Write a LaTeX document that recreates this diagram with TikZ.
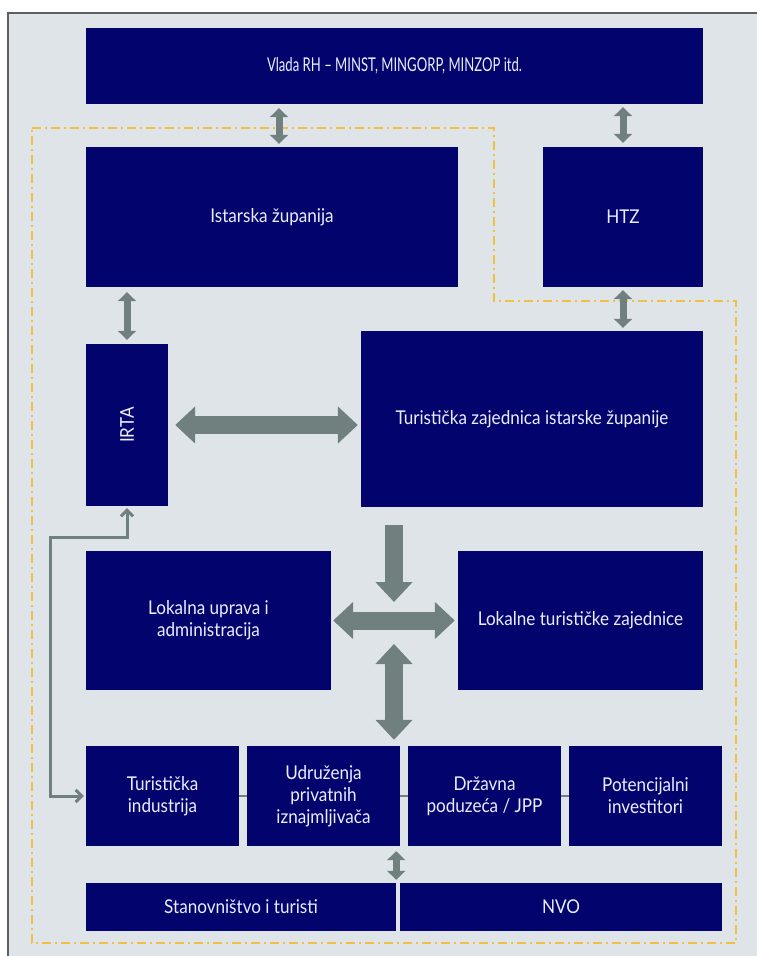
\documentclass[tikz,border=0pt]{standalone}
\usepackage{fontspec}
\setmainfont{Lato}[FakeStretch=0.9]
\newfontfamily\vladafont{Lato}[FakeStretch=0.69]
\usetikzlibrary{arrows.meta}
\definecolor{boxblue}{RGB}{3,3,110}
\definecolor{paper}{RGB}{222,228,231}
\definecolor{arrowgrey}{RGB}{112,128,126}
\definecolor{dashgold}{RGB}{240,192,70}
\definecolor{framegrey}{RGB}{90,96,100}

\begin{document}
\begin{tikzpicture}[x=1pt,y=-1pt]
  \useasboundingbox (0,0) rectangle (757,956);
  \fill[white] (0,0) rectangle (757,956);
  \fill[paper] (8,13) rectangle (757,956);
  \draw[framegrey,line width=1.5pt] (8,956) -- (8,13) -- (757,13);

%% dash-dot region
  \draw[dashgold,line width=2pt,dash pattern=on 9pt off 4pt on 2pt off 4pt]
    (32,128) -- (494,128) -- (494,301) -- (736,301) -- (736,943) -- (32,943) -- cycle;

  \tikzstyle{every node}=[rectangle,fill=boxblue,text={rgb,255:red,235;green,238;blue,255},inner sep=0pt,align=center,font=\fontsize{19}{22}\selectfont]
  \node[minimum width=617pt,minimum height=76pt,font=\vladafont\fontsize{19}{22}\selectfont] (Vlada) at (394.5,66) {Vlada RH – MINST, MINGORP, MINZOP itd.};
  \node[minimum width=372pt,minimum height=140pt] (Istra)   at (272,217)   {Istarska županija};
  \node[minimum width=160pt,minimum height=140pt] (HTZ)     at (623,217)   {HTZ};
  \node[minimum width=82pt,minimum height=162pt]  (IRTA)    at (127,425)   {};
  \node[rotate=90,fill=none] at (IRTA.center) {IRTA};
  \node[minimum width=342pt,minimum height=176pt] (TZIZ)    at (532,419)   {Turistička zajednica istarske županije};
  \node[minimum width=245pt,minimum height=139pt] (Lok-upr) at (208.5,620.5) {Lokalna uprava i\\administracija};
  \node[minimum width=245pt,minimum height=139pt] (Lok-TZ)  at (580.5,620.5) {Lokalne turističke zajednice};
  \foreach \name/\x/\txt in {tur-ind/162.5/{Turistička\\industrija}, udr-izn/323.5/{Udruženja\\privatnih\\iznajmljivača},
                             drz-pod/484.5/{Državna\\poduzeća / JPP}, pot-inv/645.5/{Potencijalni\\investitori}}
    \node[minimum width=153pt,minimum height=100pt] (\name) at (\x,796) {\txt};
  \node[minimum width=310pt,minimum height=48pt] (Stan) at (241,907) {Stanovništvo i turisti};
  \node[minimum width=322pt,minimum height=48pt] (NVO)  at (561,907) {NVO};

%% draw connections
  \tikzstyle{small arrow}=[arrowgrey,line width=7pt,arrows={Triangle[width=18pt,length=9pt]-Triangle[width=18pt,length=9pt]}]
  \tikzstyle{big arrow}=[arrowgrey,line width=18pt,arrows={Triangle[width=36pt,length=20pt]-Triangle[width=36pt,length=20pt]}]
  \tikzstyle{thin arrow}=[arrowgrey,line width=3pt,arrows={Straight Barb[width=12pt,length=6pt]-Straight Barb[width=12pt,length=6pt]}]
  \coordinate (hub) at (394,621);

%% small links
  \draw[small arrow,shorten <=3pt,shorten >=4pt] ([xshift=7pt]Istra.north) -- ([xshift=7pt]Istra.north |- Vlada.south);
  \draw[small arrow,shorten <=4pt,shorten >=3pt] (HTZ.north) -- (HTZ.north |- Vlada.south);
  \draw[small arrow,shorten <=3pt,shorten >=3pt] (HTZ.south) -- (HTZ.south |- TZIZ.north);
  \draw[small arrow,shorten <=4pt,shorten >=5pt] (IRTA.north) -- (IRTA.north |- Istra.south);
  \draw[small arrow,shorten <=3pt,shorten >=5pt] (Stan.north east) -- (Stan.north east |- udr-izn.south);

%% big links
  \draw[big arrow,shorten <=7pt,shorten >=3pt] (IRTA.east) -- (IRTA.east -| TZIZ.west);
  \draw[big arrow,shorten <=2pt,shorten >=3pt] (Lok-upr.east) -- (Lok-TZ.west);
  \draw[big arrow,arrows={-Triangle[width=36pt,length=20pt]},shorten <=18pt,shorten >=19pt] (hub |- TZIZ.south) -- (hub);
  \draw[big arrow,shorten <=23pt,shorten >=6pt] (hub) -- (hub |- udr-izn.north);

%% IRTA <-> industry
  \draw[thin arrow,shorten <=2pt,shorten >=2pt] (IRTA.south) -- ++(0,31) -| ([xshift=-35pt]tur-ind.west) -- (tur-ind.west);

%% row joints
  \foreach \a/\b in {tur-ind/udr-izn, udr-izn/drz-pod, drz-pod/pot-inv}
    \draw[arrowgrey,line width=2pt] (\a.east) -- (\b.west);
\end{tikzpicture}
\end{document}
